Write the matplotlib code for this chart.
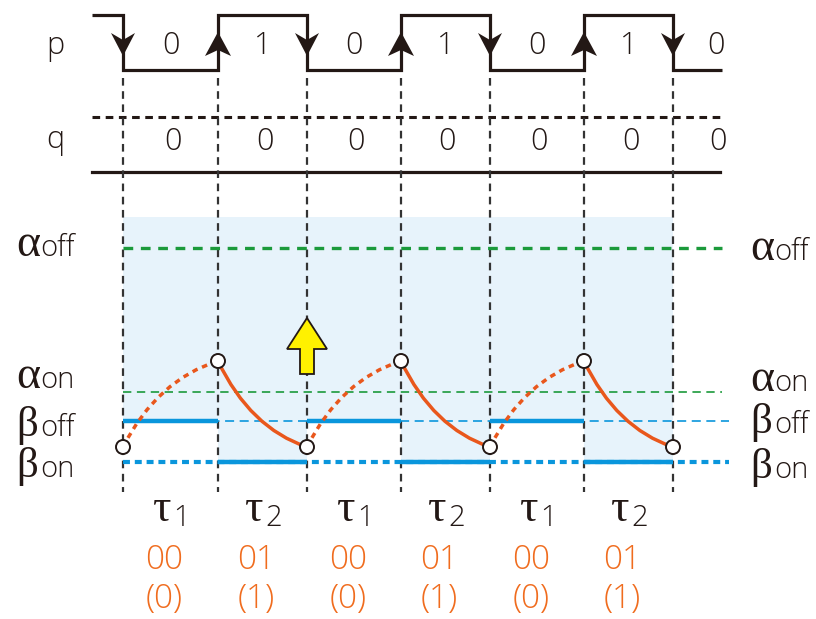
import numpy as np
import matplotlib.pyplot as plt
from matplotlib.patches import Polygon, Circle, Rectangle, PathPatch
from matplotlib.path import Path

plt.rcParams['lines.scale_dashes'] = False

# alternating tau1 / tau2 windows (durations in screen units)
durations = [95, 89, 94, 89, 94, 89]
t0 = 123
p_bits = [0, 1, 0, 1, 0, 1, 0]
q_bits = [0, 0, 0, 0, 0, 0, 0]
tau_idx = [1, 2, 1, 2, 1, 2]
codes = ['00', '01', '00', '01', '00', '01']
code_vals = ['(0)', '(1)', '(0)', '(1)', '(0)', '(1)']

# threshold and node levels (y grows downwards)
alpha_off, alpha_on = 248, 392
beta_off, beta_on = 421, 462
v_low, v_high = 447, 361

edges = t0 + np.concatenate([[0], np.cumsum(durations)])
mids = (edges[:-1] + edges[1:]) / 2
bit_x = list(mids) + [edges[-1] + 43]

BLACK = '#231815'
GREEN = '#1b9a3b'
BLUE = '#0a96dc'
ORANGE = '#e9571c'
ORANGE_TXT = '#f06c1e'
SHADE = '#e7f3fb'
SANS = ['Open Sans', 'DejaVu Sans']
SERIF = 'Liberation Serif'

fig = plt.figure(figsize=(8.16, 6.19), dpi=100)
ax = fig.add_axes([0, 0, 1, 1])
ax.set_xlim(0, 816)
ax.set_ylim(619, 0)
ax.axis('off')

x_left, x_right = 92, 722

# p waveform with edge arrows
p_hi, p_lo = 15, 70
xs, ys = [x_left], [p_hi]
level = p_hi
for e, b in zip(edges, p_bits):
    new = p_hi if b else p_lo
    xs += [e, e]
    ys += [level, new]
    level = new
xs.append(x_right)
ys.append(level)
ax.plot(xs, ys, color=BLACK, lw=2.3, solid_joinstyle='miter', solid_capstyle='butt')
for e, b in zip(edges, p_bits):
    if b:
        pts = [(e, 32), (e + 13, 56), (e, 50), (e - 13, 56)]
    else:
        pts = [(e, 56), (e + 12, 33), (e, 40), (e - 12, 33)]
    ax.add_patch(Polygon(pts, closed=True, facecolor=BLACK, lw=0, zorder=5))

# q lines
ax.plot([x_left, 720], [117, 117], color=BLACK, lw=2.2, dashes=(5.5, 4))
ax.plot([x_left, 720], [172, 172], color=BLACK, lw=2.3)

for x, b in zip(bit_x, p_bits):
    ax.text(x, 46, str(b), fontsize=22, family=SANS, color=BLACK, ha='center', va='center', fontweight='light')
for x, b in zip(bit_x, q_bits):
    ax.text(x + 2, 142, str(b), fontsize=22, family=SANS, color=BLACK, ha='center', va='center', fontweight='light')
ax.text(55, 46, 'p', fontsize=22, family=SANS, color=BLACK, ha='center', va='center', fontweight='light')
ax.text(55, 140, 'q', fontsize=22, family=SANS, color=BLACK, ha='center', va='center', fontweight='light')

# shaded windows
for i, d in enumerate(durations):
    bottom = beta_off if tau_idx[i] == 1 else beta_on
    ax.add_patch(Rectangle((edges[i], 217), d, bottom - 217, facecolor=SHADE, lw=0, zorder=0))

# vertical edge markers
ax.vlines(edges, 78, 492, colors='#333333', lw=1.6, linestyles=(0, (5.5, 4)), zorder=2)

# threshold lines
ax.plot([t0, 722], [alpha_off] * 2, color=GREEN, lw=2.4, dashes=(7, 5.5), zorder=3)
ax.plot([t0, 722], [alpha_on] * 2, color=GREEN, lw=1.2, dashes=(6, 4), zorder=3)
ax.plot([t0, 729], [beta_off] * 2, color=BLUE, lw=1.2, dashes=(6.5, 4), zorder=3)
ax.plot([t0, 729], [beta_on] * 2, color=BLUE, lw=3, dashes=(5, 3.5), zorder=3)
for i, d in enumerate(durations):
    lvl = beta_off if tau_idx[i] == 1 else beta_on
    ax.plot([edges[i], edges[i + 1]], [lvl, lvl], color=BLUE, lw=3.2, solid_capstyle='butt', zorder=4)

# node voltage: charging (dashed) in tau1, discharging (solid) in tau2
for i, d in enumerate(durations):
    y0, y1 = (v_low, v_high) if tau_idx[i] == 1 else (v_high, v_low)
    p0 = (edges[i], y0)
    p1 = (edges[i] + 0.36 * d, y0 + 0.78 * (y1 - y0))
    p2 = (edges[i + 1], y1)
    path = Path([p0, p1, p2], [Path.MOVETO, Path.CURVE3, Path.CURVE3])
    ls = (0, (4, 3.5)) if tau_idx[i] == 1 else '-'
    ax.add_patch(PathPatch(path, facecolor='none', edgecolor=ORANGE, lw=2.5, linestyle=ls, zorder=6))
for i, e in enumerate(edges):
    y = v_low if i % 2 == 0 else v_high
    ax.add_patch(Circle((e, y), 7, facecolor='white', edgecolor=BLACK, lw=1.4, zorder=7))

# yellow arrow
xa = edges[2]
arrow = [(xa, 318), (xa + 20, 349), (xa + 7, 349), (xa + 7, 374),
         (xa - 7, 374), (xa - 7, 349), (xa - 20, 349)]
ax.add_patch(Polygon(arrow, closed=True, facecolor='#fff100', edgecolor=BLACK, lw=1.3, zorder=8))

# level labels
levels = [('α', 'off', 256, 260, 33), ('α', 'on', 388, 391, 33),
          ('β', 'off', 436, 433, 31), ('β', 'on', 477, 478, 31)]
for g, s, yl, yr, fs in levels:
    for x0, y in ((16, yl), (750, yr)):
        ax.text(x0, y, g, fontsize=fs, family=SERIF, color=BLACK, ha='left', va='baseline')
        ax.text(x0 + 24, y, s, fontsize=21, family=SANS, color=BLACK, ha='left', va='baseline',
                fontweight='light')

# window labels and codes
for m, k, c, v in zip(mids, tau_idx, codes, code_vals):
    ax.text(m - 8, 521, 'τ', fontsize=33, family=SERIF, color=BLACK, ha='center', va='baseline')
    ax.text(m + 3, 526, str(k), fontsize=21, family=SANS, color=BLACK, ha='left', va='baseline',
            fontweight='light')
    ax.text(m - 6, 560, c, fontsize=24, family=SANS, color=ORANGE_TXT, ha='center', va='center',
            fontweight='light')
    ax.text(m - 6, 599, v, fontsize=24, family=SANS, color=ORANGE_TXT, ha='center', va='center',
            fontweight='light')

fig.savefig('out.png', dpi=100)
